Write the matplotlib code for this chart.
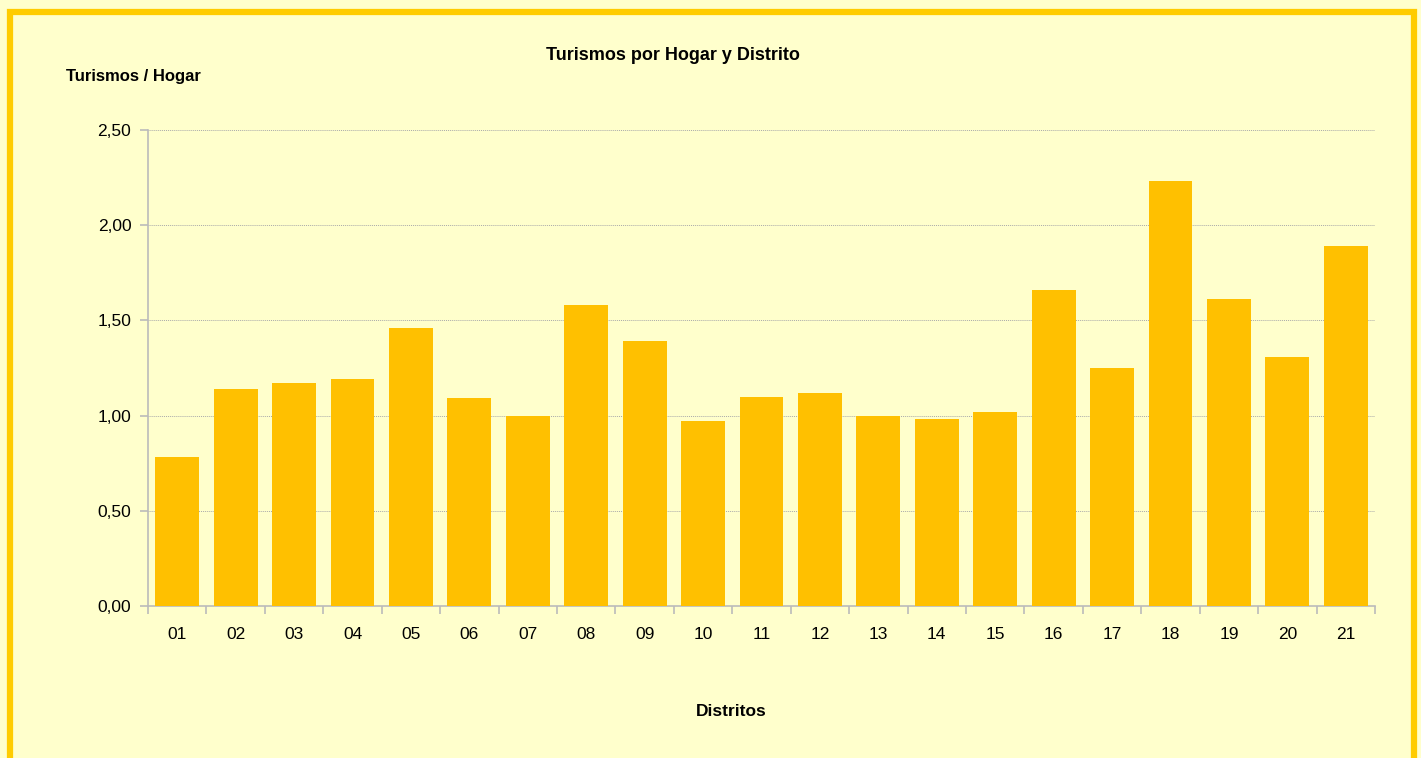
import matplotlib.pyplot as plt
from matplotlib.patches import Rectangle
from matplotlib.ticker import FuncFormatter

plt.rcParams['font.family'] = ['Liberation Sans', 'DejaVu Sans']

distritos = ["01", "02", "03", "04", "05", "06", "07", "08", "09", "10", "11",
             "12", "13", "14", "15", "16", "17", "18", "19", "20", "21"]
turismos_hogar = [0.78, 1.14, 1.17, 1.19, 1.46, 1.09, 1.00, 1.58, 1.39, 0.97, 1.10,
                  1.12, 1.00, 0.98, 1.02, 1.66, 1.25, 2.23, 1.61, 1.31, 1.89]

bg = "#FFFFCC"
fig = plt.figure(figsize=(14.21, 7.58), dpi=100, facecolor=bg)
W, H = 1421, 758

# border of the chart area (bottom runs off the picture)
fig.patches.append(Rectangle((10 / W, -0.05), (1404 / W), (H - 12) / H + 0.05,
                             transform=fig.transFigure, fill=False,
                             edgecolor="#FFCC00", linewidth=4.5, zorder=0))

ax = fig.add_axes([148 / W, 1 - 606 / H, (1375 - 148) / W, (606 - 130) / H])
ax.set_facecolor(bg)

x = range(len(distritos))
ax.bar(x, turismos_hogar, width=0.75, color="#FFC000", zorder=3)

ax.set_xlim(-0.5, len(distritos) - 0.5)
ax.set_ylim(0, 2.5)
ax.set_yticks([0, 0.5, 1.0, 1.5, 2.0, 2.5])
ax.yaxis.set_major_formatter(FuncFormatter(lambda v, p: f"{v:.2f}".replace(".", ",")))
ax.set_xticks(list(x))
ax.set_xticklabels(distritos)
ax.set_xticks([i - 0.5 for i in range(len(distritos) + 1)], minor=True)
ax.tick_params(axis="x", which="major", length=0, pad=15, labelsize=12.5)
ax.tick_params(axis="x", which="minor", length=6, color="#BBBBBB", width=1.2)
ax.tick_params(axis="y", length=6, color="#BBBBBB", width=1.2, pad=6, labelsize=12.5)

ax.grid(axis="y", linestyle=(0, (1, 1)), color="#AAAAAA", linewidth=0.7, zorder=1)
for s in ["top", "right"]:
    ax.spines[s].set_visible(False)
for s in ["left", "bottom"]:
    ax.spines[s].set_color("#BBBBBB")
    ax.spines[s].set_linewidth(1.2)

fig.text(673 / W, 1 - 55 / H, "Turismos por Hogar y Distrito", ha="center", va="center",
         fontsize=13, fontweight="bold")
fig.text(66 / W, 1 - 77 / H, "Turismos / Hogar", ha="left", va="center",
         fontsize=12, fontweight="bold")
fig.text(731 / W, 1 - 711 / H, "Distritos", ha="center", va="center",
         fontsize=12.5, fontweight="bold")

fig.savefig("out.png", dpi=100, facecolor=bg)
